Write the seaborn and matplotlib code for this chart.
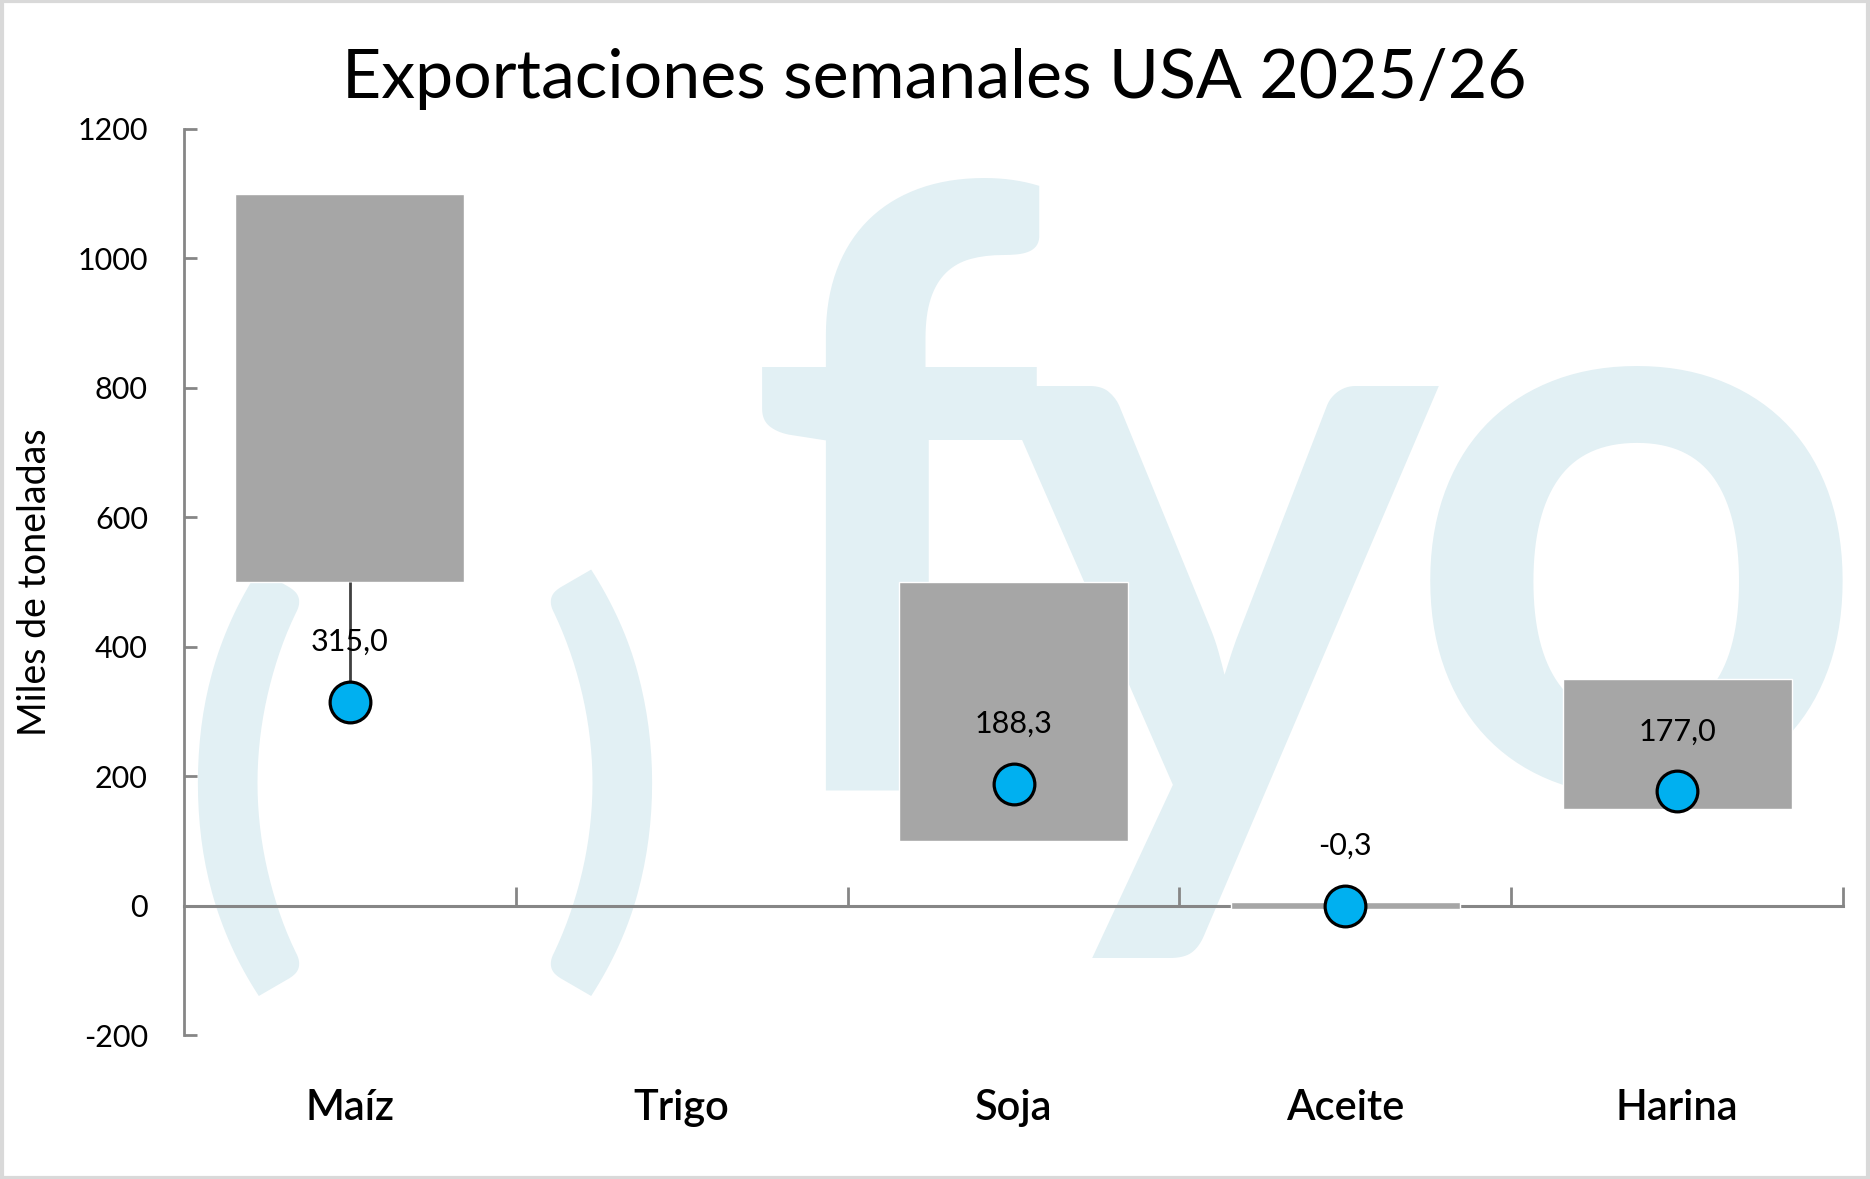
import numpy as np
import pandas as pd
import matplotlib
matplotlib.use("Agg")
import matplotlib.pyplot as plt
import matplotlib.patches as mpatches
import seaborn as sns

# --- datos ---
categorias = ["Maíz", "Trigo", "Soja", "Aceite", "Harina"]
rango_min = [500, np.nan, 100, -6, 150]
rango_max = [1100, np.nan, 500, 6, 350]
semana = [315.0, np.nan, 188.3, -0.3, 177.0]
y_ticks = [-200, 0, 200, 400, 600, 800, 1000, 1200]

GRIS_BARRA = "#A6A6A6"
GRIS_EJE = "#868686"
AZUL = "#00B0F0"
MARCA = "#E2F0F4"

sns.set_theme(style="white")
plt.rcParams["font.family"] = ["Lato", "DejaVu Sans"]
plt.rcParams["text.color"] = "black"
plt.rcParams["axes.labelcolor"] = "black"
plt.rcParams["ytick.labelcolor"] = "black"
plt.rcParams["xtick.labelcolor"] = "black"

df = pd.DataFrame({"cat": categorias, "pos": np.arange(len(categorias)),
                   "lo": rango_min, "hi": rango_max, "val": semana})

fig = plt.figure(figsize=(18.7, 11.79), dpi=100)
ax = fig.add_axes([0.0984, 0.1221, 0.8872, 0.7685])
ax.set_facecolor("none")
ax.set_zorder(2)

# marca de agua "( ) fyo" (detras de los ejes)
wm = dict(color=MARCA, zorder=0, ha="center", va="baseline")
fig.text(0.132, 0.2176, "(", fontsize=320, fontweight="heavy", **wm)
fig.text(0.322, 0.2176, ")", fontsize=320, fontweight="heavy", **wm)
fig.text(0.478, 0.33, "f", fontsize=600, fontweight="bold", **wm)
fig.text(0.651, 0.307, "y", fontsize=605, fontweight="bold", **wm)
fig.text(0.875, 0.33, "o", fontsize=585, fontweight="bold", **wm)

# barras flotantes (rango)
d = df.dropna(subset=["lo"])
ax.bar(d["pos"], d["hi"] - d["lo"], bottom=d["lo"], width=0.69,
       color=GRIS_BARRA, zorder=2)

# linea de union punto-barra cuando el punto esta fuera del rango
for _, r in d.iterrows():
    if r["val"] < r["lo"]:
        ax.vlines(r["pos"], r["val"], r["lo"], color="#404040", lw=2, zorder=2)
    elif r["val"] > r["hi"]:
        ax.vlines(r["pos"], r["hi"], r["val"], color="#404040", lw=2, zorder=2)

# puntos de la semana
sns.scatterplot(data=df.dropna(subset=["val"]), x="pos", y="val", ax=ax,
                s=860, color=AZUL, edgecolor="black", linewidth=2.3,
                zorder=4, legend=False)

for _, r in df.dropna(subset=["val"]).iterrows():
    ax.annotate(f"{r['val']:.1f}".replace(".", ","), (r["pos"], r["val"]),
                xytext=(0, 43), textcoords="offset points",
                ha="center", va="center", fontsize=22,
                color="black", zorder=5)

# ejes
ax.set_xlim(-0.5, len(categorias) - 0.5)
ax.set_ylim(-200, 1200)
ax.set_yticks(y_ticks)
ax.set_yticklabels([str(t) for t in y_ticks], fontsize=22)
ax.set_xticks(np.arange(len(categorias)) + 0.5)
ax.set_xticklabels([])
ax.set_xlabel("")
ax.tick_params(axis="y", direction="in", length=9, width=2, color=GRIS_EJE,
               pad=26, left=True)
ax.tick_params(axis="x", direction="in", length=14, width=2, color=GRIS_EJE,
               bottom=True)
for s in ["top", "right"]:
    ax.spines[s].set_visible(False)
ax.spines["left"].set_color(GRIS_EJE)
ax.spines["left"].set_linewidth(2)
ax.spines["bottom"].set_position(("data", 0))
ax.spines["bottom"].set_color(GRIS_EJE)
ax.spines["bottom"].set_linewidth(2.2)
ax.spines["bottom"].set_zorder(1)

for i, c in enumerate(categorias):
    ax.text(i, -0.08, c, transform=ax.get_xaxis_transform(), ha="center",
            va="center", fontsize=30, fontweight="semibold")

ax.set_ylabel("Miles de toneladas", fontsize=27)
ax.yaxis.set_label_coords(-0.079, 0.5)

fig.text(0.4995, 0.933, "Exportaciones semanales USA 2025/26", ha="center",
         va="center", fontsize=49)

fig.patches.append(mpatches.Rectangle((0.001, 0.001), 0.998, 0.998,
                   transform=fig.transFigure, fill=False,
                   edgecolor="#D9D9D9", linewidth=3))

fig.savefig("out.png", dpi=100)
